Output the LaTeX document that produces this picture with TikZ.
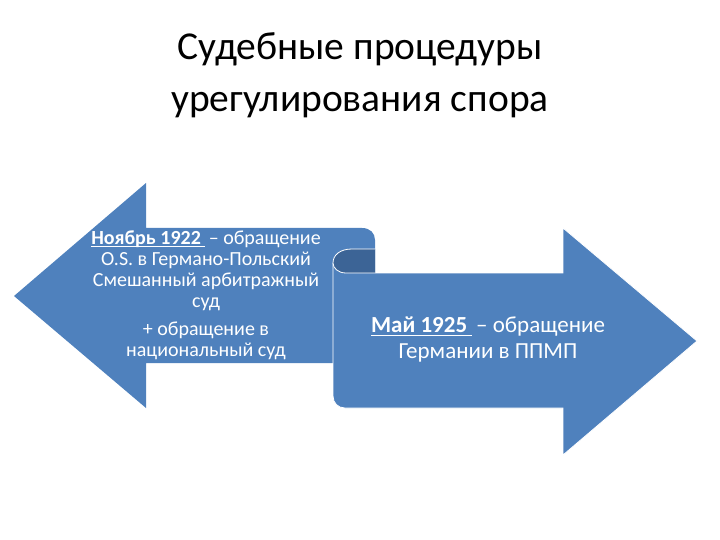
\documentclass[tikz,border=0pt]{standalone}
\usepackage{fontspec}
\setmainfont{Carlito}
\definecolor{arrowblue}{RGB}{79,129,189}
\definecolor{curlblue}{RGB}{60,100,150}
\newcommand{\onderlijn}[1]{\setbox0\hbox{#1}\rlap{\rule[-2.5pt]{\wd0}{0.9pt}}\box0}
\tikzset{
  arrowshape/.style={fill=arrowblue, draw=white, line width=0.8pt},
  arrowtext/.style={text=white, align=center, inner sep=0pt},
}
\begin{document}
\begin{tikzpicture}[x=1pt, y=-1pt]
    \useasboundingbox (0,0) rectangle (720,540);

    % Titel
    \node[align=center, font=\fontsize{39.5}{52.5}\selectfont] (titel) at (360,75)
        {Судебные процедуры\\урегулирования спора};

    % Punten
    \coordinate (Lpunt) at (14,296);
    \coordinate (Rpunt) at (697,341);

    % Linker pijl
    \fill[arrowblue] (Lpunt) -- (146,183) -- (146,228) -- (362,228)
        .. controls (370,228) and (375,233) .. (375,240) -- (375,363)
        -- (146,363) -- (146,408) -- cycle;

    % Rechter pijl
    \draw[arrowshape] (333,263) -- (333,396) .. controls (333,403) and (338,408) .. (345,408)
        -- (563,408) -- (563,455) -- (Rpunt) -- (563,228) -- (563,273) -- (375,273);

    % Krul
    \draw[fill=curlblue, draw=white, line width=0.8pt] (375,273) -- (346,273)
        .. controls (338,273) and (333,268) .. (333,263)
        .. controls (333,255) and (340,249) .. (352,249) -- (375,249);

    % Teksten
    \node[arrowtext, font=\fontsize{20}{21.3}\selectfont] (links) at (206,295)
        {\onderlijn{\textbf{Ноябрь 1922}\ }\,– обращение\\
         O.S. в Германо-Польский\\
         Смешанный арбитражный\\
         суд\\[6pt]
         + обращение в\\
         национальный суд};
    \node[arrowtext, font=\fontsize{23}{26}\selectfont] (rechts) at (488,340)
        {\onderlijn{\textbf{Май 1925}\ }\,– обращение\\
         Германии в ППМП};
\end{tikzpicture}
\end{document}
